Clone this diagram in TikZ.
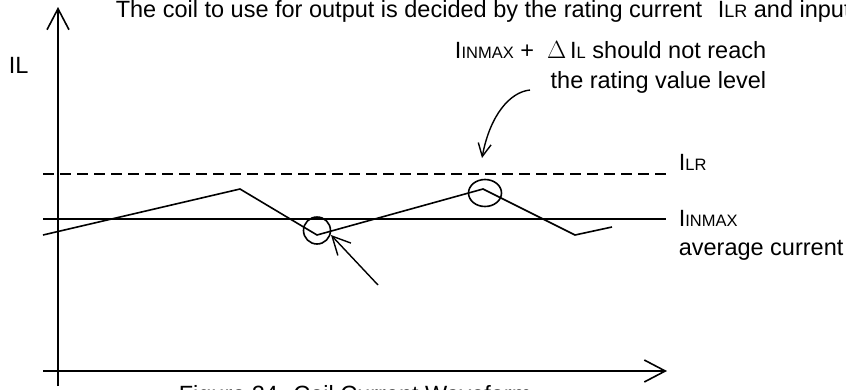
\documentclass[tikz,border=0pt]{standalone}
\usepackage{fontspec}
\setmainfont{Liberation Sans}
\usetikzlibrary{arrows.meta}
\newcommand{\lowtxt}[1]{\raisebox{-0.8pt}{\fontsize{16.5}{16.5}\selectfont #1}}
\begin{document}
\begin{tikzpicture}[x=1pt,y=-1pt,line width=1.6pt,
  lbl/.style={inner sep=0pt,anchor=base west,font=\fontsize{23.5}{28}\selectfont},
  axis/.style={-{Straight Barb[length=21pt,width=22pt]}},
  pointer/.style={line width=1.4pt,-{Straight Barb[length=#1,width=#1]}}]
\useasboundingbox (0,0) rectangle (846,389);
\coordinate (yfoot) at (58,386);
\coordinate (ytip) at (58,7);
\coordinate (xfoot) at (43,371);
\coordinate (xtip) at (667,371);
\draw[axis] (yfoot) -- (ytip);
\draw[axis] (xfoot) -- (xtip);
\coordinate (lr0) at (43,174);
\coordinate (lr1) at (666,174);
\coordinate (in0) at (43,219);
\coordinate (in1) at (666,219);
\draw[dash pattern=on 11pt off 6pt] (lr0) -- (lr1);
\draw (in0) -- (in1);
\coordinate (w0) at (43,235);
\coordinate (w1) at (240,189);
\coordinate (w2) at (317,235);
\coordinate (w3) at (483,189);
\coordinate (w4) at (575,235);
\coordinate (w5) at (612,227);
\draw (w0) -- (w1) -- (w2) -- (w3) -- (w4) -- (w5);
\draw (317,230.5) circle (13.5pt);
\draw (485,193) ellipse (16.5pt and 13.5pt);
\coordinate (dipfrom) at (378,285);
\coordinate (diptip) at (331,235);
\draw[pointer=18pt] (dipfrom) -- (diptip);
\coordinate (notefrom) at (530,90);
\coordinate (peaktip) at (482,158);
\draw[pointer=13pt] (notefrom) .. controls (510,92) and (490,115) .. (peaktip);
\node[lbl] (ylabel) at (8,73) {IL};
\node[lbl] (title) at (115,17.5) {The coil to use for output is decided by the rating current\hspace{9pt} I{\fontsize{18}{18}\selectfont LR} and input};
\node[lbl,anchor=base east] (note1) at (767,58) {I\lowtxt{INMAX} +\ \ $\Delta$\,I\lowtxt{L} should not reach};
\node[lbl,anchor=base east] (note2) at (767,88) {the rating value level};
\node[lbl] (lrlabel) at (678,170) {I\lowtxt{LR}};
\node[lbl] (inlabel) at (678,226) {I\lowtxt{INMAX}};
\node[lbl] (avglabel) at (678,255) {average current};
\node[lbl] (caption) at (178,402) {Figure 24. Coil Current Waveform};
\end{tikzpicture}
\end{document}
